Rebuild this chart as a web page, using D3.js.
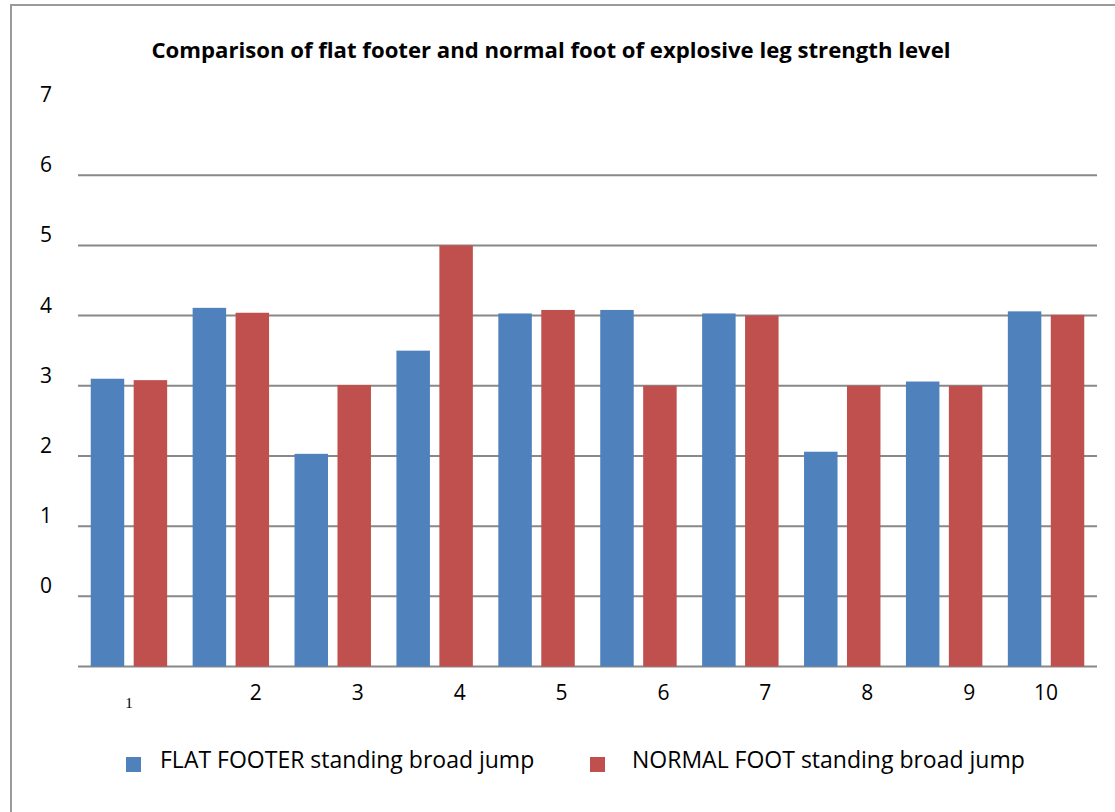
<!DOCTYPE html>
<html>
<head>
<meta charset="utf-8">
<script src="https://cdn.jsdelivr.net/npm/d3@7/dist/d3.min.js"></script>
<style>
  body { margin: 0; background: #fff; }
  text { font-family: "Open Sans", Lato, sans-serif; fill: #000; }
  .title { font-weight: bold; font-size: 21px; }
  .tick-label { font-size: 21px; }
  .legend-text { font-size: 23px; }
</style>
</head>
<body>
<div id="chart"></div>
<script>
const categories = ["1", "2", "3", "4", "5", "6", "7", "8", "9", "10"];
const seriesNames = ["FLAT FOOTER standing broad jump", "NORMAL FOOT standing broad jump"];
const flatFooter = [3.1, 4.11, 2.03, 3.5, 4.03, 4.08, 4.03, 2.06, 3.06, 4.06];
const normalFoot = [3.08, 4.04, 3.01, 5.0, 4.08, 3.0, 4.0, 3.0, 3.0, 4.01];
const yTicks = [0, 1, 2, 3, 4, 5, 6, 7];
const gridValues = [0, 1, 2, 3, 4, 5, 6];
const colors = ["#4F81BD", "#C0504D"];

const width = 1115;
const height = 812;
const plot = { left: 78, right: 1097, top: 105, bottom: 666.5 };

const svg = d3.select("#chart")
  .append("svg")
  .attr("width", width)
  .attr("height", height);

// frame (top and left edge only, as in the scan)
svg.append("path")
  .attr("d", `M11,${height} L11,5 L${width},5`)
  .attr("fill", "none")
  .attr("stroke", "#9a9a9a")
  .attr("stroke-width", 2);

// Title
svg.append("text")
  .attr("class", "title")
  .attr("x", 551)
  .attr("y", 58)
  .attr("text-anchor", "middle")
  .attr("textLength", 799)
  .attr("lengthAdjust", "spacingAndGlyphs")
  .text("Comparison of flat footer and normal foot of explosive leg strength level");

// Scales
const x = d3.scaleBand()
  .domain(categories)
  .range([plot.left, plot.right])
  .paddingInner(0.25)
  .paddingOuter(0.125);

const xSub = d3.scaleBand()
  .domain([0, 1])
  .range([0, x.bandwidth()])
  .paddingInner(0.22);

// the axis floor sits one unit below the "0" label
const y = d3.scaleLinear()
  .domain([-1, 7])
  .range([plot.bottom, plot.top]);

// Gridlines
svg.append("g")
  .selectAll("line")
  .data(gridValues.concat([-1]))
  .enter().append("line")
    .attr("x1", plot.left)
    .attr("x2", plot.right)
    .attr("y1", d => y(d))
    .attr("y2", d => y(d))
    .attr("stroke", "#888")
    .attr("stroke-width", 2);

// Y labels (sit a bit above their lines)
svg.append("g")
  .selectAll("text")
  .data(yTicks)
  .enter().append("text")
    .attr("class", "tick-label")
    .attr("x", 46)
    .attr("y", d => y(d) - 3)
    .attr("text-anchor", "middle")
    .text(d => d);

// Bars
const rows = categories.map((c, i) => ({ cat: c, values: [flatFooter[i], normalFoot[i]] }));

const groups = svg.append("g")
  .selectAll("g")
  .data(rows)
  .enter().append("g")
    .attr("transform", d => `translate(${x(d.cat)},0)`);

groups.selectAll("rect")
  .data(d => d.values)
  .enter().append("rect")
    .attr("x", (d, i) => xSub(i))
    .attr("width", xSub.bandwidth())
    .attr("y", d => y(d))
    .attr("height", d => y(-1) - y(d))
    .attr("fill", (d, i) => colors[i]);

// X labels: the middle ones drift right towards the red bar in the original
const n = categories.length;
svg.append("g")
  .selectAll("text")
  .data(categories)
  .enter().append("text")
    .attr("class", "tick-label")
    .attr("x", (d, i) => x(d) + x.bandwidth() / 2 + (i === 0 || i === n - 1 ? 0 : 25))
    .attr("y", (d, i) => i === 0 ? 708 : 700)
    .attr("text-anchor", "middle")
    .style("font-family", (d, i) => i === 0 ? "'Liberation Serif', serif" : null)
    .style("font-size", (d, i) => i === 0 ? "15px" : null)
    .text(d => d);

// Legend
const legendSwatchX = [126, 590];
const legendTextX = [160, 632];
seriesNames.forEach((name, i) => {
  svg.append("rect")
    .attr("x", legendSwatchX[i])
    .attr("y", 757)
    .attr("width", 15)
    .attr("height", 15)
    .attr("fill", colors[i]);
  svg.append("text")
    .attr("class", "legend-text")
    .attr("x", legendTextX[i])
    .attr("y", 768)
    .text(name);
});
</script>
</body>
</html>
